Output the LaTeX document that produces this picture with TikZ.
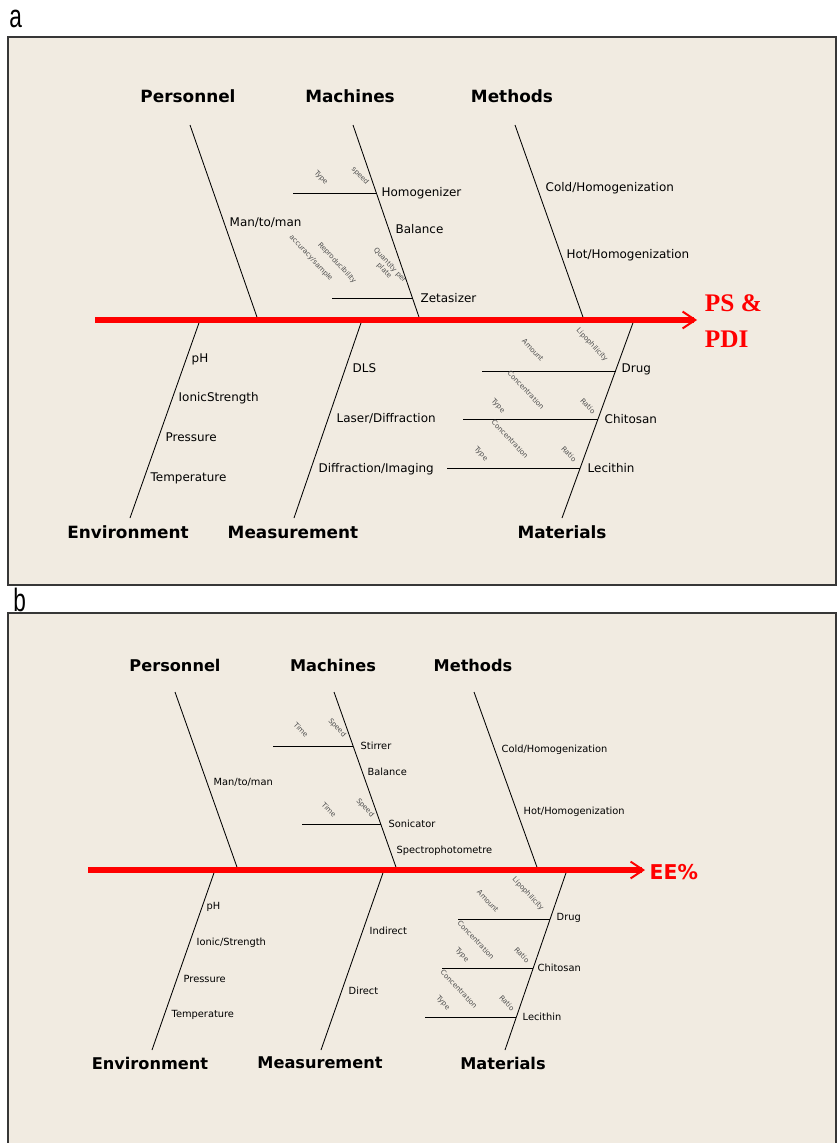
\documentclass[tikz,border=0pt]{standalone}
\usepackage{fontspec}
\setmainfont{DejaVu Sans}
\newfontfamily\titlefont{Liberation Serif}
\newfontfamily\panelfont[FakeStretch=0.7]{Liberation Sans}
\usetikzlibrary{arrows.meta}
\definecolor{paper}{RGB}{241,235,225}
\definecolor{frame}{RGB}{55,55,55}

\begin{document}
\begin{tikzpicture}[x=0.025cm, y=-0.025cm,
   panel/.style = {draw=frame, line width=1.1pt, fill=paper},
   tag/.style = {anchor=base west, inner sep=0pt, font=\panelfont\fontsize{23}{23}\selectfont},
   cat/.style = {font=\bfseries\fontsize{12}{14}\selectfont},
   catb/.style = {font=\bfseries\fontsize{11.5}{14}\selectfont},
   cause/.style = {anchor=west, inner sep=1pt, font=\fontsize{8.5}{10}\selectfont},
   causeb/.style = {anchor=west, inner sep=1pt, font=\fontsize{7}{8}\selectfont},
   minor/.style = {inner sep=0pt, rotate=-47, align=center, text=black!70, font=\fontsize{5}{5.5}\selectfont},
   bone/.style = {draw, line width=0.6pt},
   spine/.style = {draw=red, line width=4.6pt, -{Straight Barb[length=9pt,width=12pt,line width=1.4pt]}},
   effect/.style = {anchor=west, align=left, text=red, font=\titlefont\bfseries\fontsize{18}{26}\selectfont}]
   \useasboundingbox (0,0) rectangle (838,1143);

   \draw[panel] (8,37) rectangle (836,585);
   \node[tag] (tagA) at (9,28) {a};

   \node[cat] (aPers) at (188,96)  {Personnel};
   \node[cat] (aMach) at (350,96)  {Machines};
   \node[cat] (aMeth) at (512,96)  {Methods};
   \node[cat] (aEnv)  at (128,532) {Environment};
   \node[cat] (aMeas) at (293,532) {Measurement};
   \node[cat] (aMat)  at (562,532) {Materials};

   \coordinate (aPers1) at (190,125);  \coordinate (aPers2) at (258,320);
   \coordinate (aMach1) at (353,125);  \coordinate (aMach2) at (420,320);
   \coordinate (aMeth1) at (515,125);  \coordinate (aMeth2) at (584,320);
   \coordinate (aEnv1)  at (130,518);  \coordinate (aEnv2)  at (200,320);
   \coordinate (aMeas1) at (294,518);  \coordinate (aMeas2) at (362,320);
   \coordinate (aMat1)  at (562,518);  \coordinate (aMat2)  at (634,320);
   \coordinate (aHom1)  at (293,193);  \coordinate (aHom2)  at (377,193);
   \coordinate (aZet1)  at (332,298);  \coordinate (aZet2)  at (413,298);
   \coordinate (aDrug1) at (482,371);  \coordinate (aDrug2) at (616,371);
   \coordinate (aChit1) at (463,419);  \coordinate (aChit2) at (598,419);
   \coordinate (aLec1)  at (447,468);  \coordinate (aLec2)  at (580,468);
   \coordinate (aTail)  at (95,320);   \coordinate (aHead)  at (697,320);

   \path[bone]
   (aPers1) edge (aPers2)
   (aMach1) edge (aMach2)
   (aMeth1) edge (aMeth2)
   (aEnv1)  edge (aEnv2)
   (aMeas1) edge (aMeas2)
   (aMat1)  edge (aMat2)
   (aHom1)  edge (aHom2)
   (aZet1)  edge (aZet2)
   (aDrug1) edge (aDrug2)
   (aChit1) edge (aChit2)
   (aLec1)  edge (aLec2);
   \path (aTail) edge[spine] (aHead);
   \node[effect] (aEff) at (700,321) {PS \&\\PDI};

   \node[cause] (aMan)  at (228,223) {Man/to/man};
   \node[cause] (aHom)  at (380,193) {Homogenizer};
   \node[cause] (aBal)  at (394,229) {Balance};
   \node[cause] (aZet)  at (419,298) {Zetasizer};
   \node[cause] (aCold) at (544,188) {Cold/Homogenization};
   \node[cause] (aHot)  at (565,255) {Hot/Homogenization};
   \node[cause] (aPH)   at (190,359) {pH};
   \node[cause] (aIon)  at (177,398) {IonicStrength};
   \node[cause] (aPres) at (164,437) {Pressure};
   \node[cause] (aTemp) at (149,478) {Temperature};
   \node[cause] (aDLS)  at (351,368) {DLS};
   \node[cause] (aLas)  at (335,419) {Laser/Diffraction};
   \node[cause] (aDif)  at (317,469) {Diffraction/Imaging};
   \node[cause] (aDrug) at (620,369) {Drug};
   \node[cause] (aChit) at (603,419) {Chitosan};
   \node[cause] (aLec)  at (586,468) {Lecithin};

   \node[minor] (aHomT)  at (321,178) {Type};
   \node[minor] (aHomS)  at (360,176) {speed};
   \node[minor] (aZetA)  at (311,258) {accuracy/sample};
   \node[minor] (aZetR)  at (337,263) {Reproducibility};
   \node[minor] (aZetQ)  at (387,268) {Quantity per\\plate};
   \node[minor] (aDrugL) at (592,345) {Lipophilicity};
   \node[minor] (aDrugA) at (533,350) {Amount};
   \node[minor] (aChitC) at (526,390) {Concentration};
   \node[minor] (aChitR) at (588,406) {Ratio};
   \node[minor] (aChitT) at (498,406) {Type};
   \node[minor] (aLecC)  at (510,439) {Concentration};
   \node[minor] (aLecT)  at (481,454) {Type};
   \node[minor] (aLecR)  at (569,454) {Ratio};

   \draw[panel] (8,613) rectangle (836,1150);
   \node[tag] (tagB) at (13,611) {b};

   \node[catb] (bPers) at (175,665)  {Personnel};
   \node[catb] (bMach) at (333,665)  {Machines};
   \node[catb] (bMeth) at (473,665)  {Methods};
   \node[catb] (bEnv)  at (150,1063) {Environment};
   \node[catb] (bMeas) at (320,1063) {Measurement};
   \node[catb] (bMat)  at (503,1063) {Materials};

   \coordinate (bPers1) at (175,692);  \coordinate (bPers2) at (238,870);
   \coordinate (bMach1) at (334,692);  \coordinate (bMach2) at (397,870);
   \coordinate (bMeth1) at (474,692);  \coordinate (bMeth2) at (538,870);
   \coordinate (bEnv1)  at (152,1050); \coordinate (bEnv2)  at (215,870);
   \coordinate (bMeas1) at (321,1050); \coordinate (bMeas2) at (384,870);
   \coordinate (bMat1)  at (505,1050); \coordinate (bMat2)  at (567,870);
   \coordinate (bStir1) at (273,746);  \coordinate (bStir2) at (353,746);
   \coordinate (bSon1)  at (302,824);  \coordinate (bSon2)  at (381,824);
   \coordinate (bDrug1) at (458,919);  \coordinate (bDrug2) at (550,919);
   \coordinate (bChit1) at (442,968);  \coordinate (bChit2) at (533,968);
   \coordinate (bLec1)  at (425,1017); \coordinate (bLec2)  at (516,1017);
   \coordinate (bTail)  at (88,870);   \coordinate (bHead)  at (645,870);

   \path[bone]
   (bPers1) edge (bPers2)
   (bMach1) edge (bMach2)
   (bMeth1) edge (bMeth2)
   (bEnv1)  edge (bEnv2)
   (bMeas1) edge (bMeas2)
   (bMat1)  edge (bMat2)
   (bStir1) edge (bStir2)
   (bSon1)  edge (bSon2)
   (bDrug1) edge (bDrug2)
   (bChit1) edge (bChit2)
   (bLec1)  edge (bLec2);
   \path (bTail) edge[spine] (bHead);
   \node[anchor=west, inner sep=1pt, text=red, font=\bfseries\fontsize{14.5}{16}\selectfont] (bEff) at (648,872) {EE\%};

   \node[causeb] (bMan)  at (212,782)  {Man/to/man};
   \node[causeb] (bStir) at (359,746)  {Stirrer};
   \node[causeb] (bBal)  at (366,772)  {Balance};
   \node[causeb] (bSon)  at (387,824)  {Sonicator};
   \node[causeb] (bSpec) at (395,851)  {Spectrophotometre};
   \node[causeb] (bCold) at (500,750)  {Cold/Homogenization};
   \node[causeb] (bHot)  at (522,812)  {Hot/Homogenization};
   \node[causeb] (bPH)   at (205,907)  {pH};
   \node[causeb] (bIon)  at (195,943)  {Ionic/Strength};
   \node[causeb] (bPres) at (182,979)  {Pressure};
   \node[causeb] (bTemp) at (170,1015) {Temperature};
   \node[causeb] (bInd)  at (368,931)  {Indirect};
   \node[causeb] (bDir)  at (347,991)  {Direct};
   \node[causeb] (bDrug) at (555,918)  {Drug};
   \node[causeb] (bChit) at (536,968)  {Chitosan};
   \node[causeb] (bLec)  at (521,1017) {Lecithin};

   \node[minor] (bStirT) at (301,730)  {Time};
   \node[minor] (bStirS) at (337,728)  {Speed};
   \node[minor] (bSonT)  at (329,810)  {Time};
   \node[minor] (bSonS)  at (365,808)  {Speed};
   \node[minor] (bDrugL) at (528,894)  {Lipophilicity};
   \node[minor] (bDrugA) at (488,901)  {Amount};
   \node[minor] (bChitC) at (476,940)  {Concentration};
   \node[minor] (bChitR) at (522,955)  {Ratio};
   \node[minor] (bChitT) at (462,955)  {Type};
   \node[minor] (bLecC)  at (459,989)  {Concentration};
   \node[minor] (bLecT)  at (443,1003) {Type};
   \node[minor] (bLecR)  at (507,1003) {Ratio};
\end{tikzpicture}
\end{document}
